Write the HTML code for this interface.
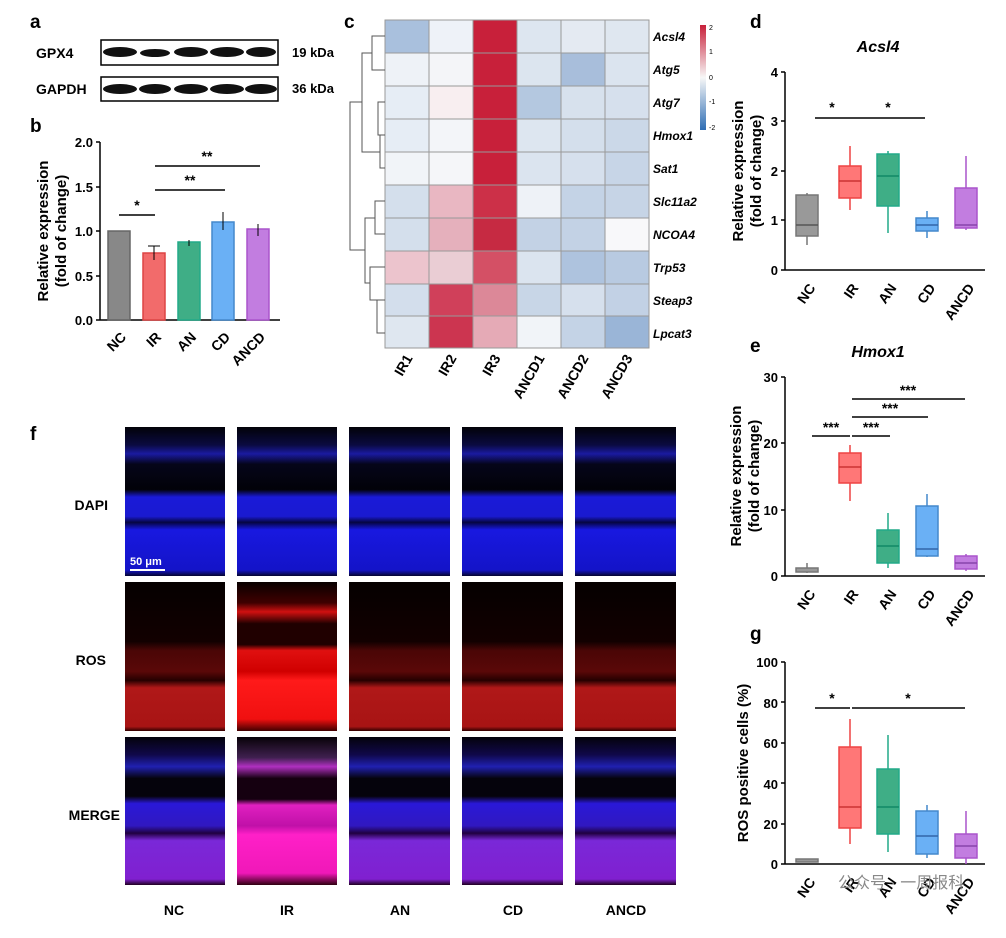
<!DOCTYPE html>
<html><head><meta charset="utf-8"><style>
body{margin:0;background:#fff;width:1006px;height:933px;overflow:hidden}
svg text{font-family:"Liberation Sans",Arial,sans-serif}
.b{font-weight:bold}
</style></head><body>
<svg width="1006" height="933" viewBox="0 0 1006 933" xmlns="http://www.w3.org/2000/svg">
<defs>
<linearGradient id="dapi" x1="0" y1="0" x2="0" y2="1">
<stop offset="0" stop-color="#020208"/><stop offset="0.12" stop-color="#0a0a40"/><stop offset="0.18" stop-color="#1a1aa0"/><stop offset="0.25" stop-color="#05051a"/>
<stop offset="0.42" stop-color="#020208"/><stop offset="0.47" stop-color="#1a1ad8"/><stop offset="0.6" stop-color="#1a1ad0"/>
<stop offset="0.64" stop-color="#050540"/><stop offset="0.69" stop-color="#1818e0"/><stop offset="0.96" stop-color="#1414c8"/><stop offset="1" stop-color="#050530"/></linearGradient>
<linearGradient id="ros" x1="0" y1="0" x2="0" y2="1">
<stop offset="0" stop-color="#050000"/><stop offset="0.4" stop-color="#120000"/><stop offset="0.46" stop-color="#4a0606"/>
<stop offset="0.6" stop-color="#5a0808"/><stop offset="0.66" stop-color="#250000"/><stop offset="0.71" stop-color="#b01818"/><stop offset="0.97" stop-color="#a81414"/><stop offset="1" stop-color="#300000"/></linearGradient>
<linearGradient id="rosIR" x1="0" y1="0" x2="0" y2="1">
<stop offset="0" stop-color="#080000"/><stop offset="0.14" stop-color="#400000"/><stop offset="0.2" stop-color="#d01010"/><stop offset="0.28" stop-color="#200000"/><stop offset="0.42" stop-color="#200000"/><stop offset="0.46" stop-color="#e01010"/>
<stop offset="0.6" stop-color="#d00000"/><stop offset="0.66" stop-color="#ff1a1a"/><stop offset="0.92" stop-color="#f01010"/><stop offset="1" stop-color="#400000"/></linearGradient>
<linearGradient id="mer" x1="0" y1="0" x2="0" y2="1">
<stop offset="0" stop-color="#04030c"/><stop offset="0.12" stop-color="#10084a"/><stop offset="0.2" stop-color="#2020b0"/><stop offset="0.28" stop-color="#05030c"/><stop offset="0.4" stop-color="#05030c"/>
<stop offset="0.45" stop-color="#2a18d8"/><stop offset="0.6" stop-color="#3018c0"/><stop offset="0.65" stop-color="#200040"/><stop offset="0.7" stop-color="#7a28d8"/><stop offset="0.96" stop-color="#8020d0"/><stop offset="1" stop-color="#200020"/></linearGradient>
<linearGradient id="merIR" x1="0" y1="0" x2="0" y2="1">
<stop offset="0" stop-color="#080208"/><stop offset="0.14" stop-color="#402050"/><stop offset="0.2" stop-color="#b030c0"/><stop offset="0.28" stop-color="#150010"/><stop offset="0.42" stop-color="#150010"/><stop offset="0.46" stop-color="#e020c0"/>
<stop offset="0.6" stop-color="#c010a8"/><stop offset="0.66" stop-color="#ff20c8"/><stop offset="0.92" stop-color="#f018b8"/><stop offset="1" stop-color="#300010"/></linearGradient>
<linearGradient id="cb" x1="0" y1="0" x2="0" y2="1"><stop offset="0" stop-color="#c8203a"/><stop offset="0.5" stop-color="#f7f7f7"/><stop offset="1" stop-color="#2e6db4"/></linearGradient>
</defs>

<!-- panel a -->
<text x="30" y="28" font-size="19" class="b">a</text>
<text x="36" y="58" font-size="14" class="b">GPX4</text>
<text x="36" y="94" font-size="14" class="b">GAPDH</text>
<rect x="101" y="40" width="177" height="25" fill="#fff" stroke="#000" stroke-width="1.5"/>
<rect x="101" y="77" width="177" height="24" fill="#fff" stroke="#000" stroke-width="1.5"/>
<g fill="#111">
<ellipse cx="120" cy="52" rx="17" ry="5"/><ellipse cx="155" cy="53" rx="15" ry="4"/><ellipse cx="191" cy="52" rx="17" ry="5"/><ellipse cx="227" cy="52" rx="17" ry="5"/><ellipse cx="261" cy="52" rx="15" ry="5"/>
<ellipse cx="120" cy="89" rx="17" ry="5"/><ellipse cx="155" cy="89" rx="16" ry="5"/><ellipse cx="191" cy="89" rx="17" ry="5"/><ellipse cx="227" cy="89" rx="17" ry="5"/><ellipse cx="261" cy="89" rx="16" ry="5"/>
</g>
<text x="292" y="57" font-size="13" class="b">19 kDa</text>
<text x="292" y="93" font-size="13" class="b">36 kDa</text>

<!-- panel b -->
<text x="30" y="132" font-size="19" class="b">b</text>
<g font-size="13" class="b" text-anchor="end">
<text x="93" y="147">2.0</text><text x="93" y="192">1.5</text><text x="93" y="236">1.0</text><text x="93" y="281">0.5</text><text x="93" y="325">0.0</text></g>
<path d="M100 142V320H280M96 142H100M96 187H100M96 231H100M96 276H100M96 320H100" stroke="#000" stroke-width="1.5" fill="none"/>
<g stroke-width="1.5">
<rect x="108" y="231" width="22" height="89" fill="#888" stroke="#666"/>
<rect x="143" y="253" width="22" height="67" fill="#f26b6b" stroke="#d44"/>
<rect x="178" y="242" width="22" height="78" fill="#3fae86" stroke="#2a8"/>
<rect x="212" y="222" width="22" height="98" fill="#6ab0f5" stroke="#48c"/>
<rect x="247" y="229" width="22" height="91" fill="#c27de0" stroke="#a5c"/>
</g>
<path d="M154 246V260M160 246H148M189 240V246M223 212V230M258 224V236" stroke="#000"/>
<path d="M119 215H155M155 190H225M155 166H260" stroke="#000" stroke-width="1.5"/>
<text x="137" y="210" font-size="14" class="b" text-anchor="middle">*</text>
<text x="190" y="185" font-size="14" class="b" text-anchor="middle">**</text>
<text x="207" y="161" font-size="14" class="b" text-anchor="middle">**</text>
<text transform="translate(48,231) rotate(-90)" font-size="15" class="b" text-anchor="middle">Relative expression</text>
<text transform="translate(66,231) rotate(-90)" font-size="15" class="b" text-anchor="middle">(fold of change)</text>
<g font-size="14" class="b" text-anchor="end">
<text transform="translate(127,338) rotate(-45)">NC</text><text transform="translate(162,338) rotate(-45)">IR</text>
<text transform="translate(197,338) rotate(-45)">AN</text><text transform="translate(231,338) rotate(-45)">CD</text>
<text transform="translate(266,338) rotate(-45)">ANCD</text></g>

<!-- panel c -->
<text x="344" y="28" font-size="19" class="b">c</text>
<g stroke="#999" stroke-width="1">
<rect x="385" y="20" width="44" height="33" fill="#a9c0dd"/><rect x="429" y="20" width="44" height="33" fill="#eef2f8"/><rect x="473" y="20" width="44" height="33" fill="#c8203a"/><rect x="517" y="20" width="44" height="33" fill="#dde6f0"/><rect x="561" y="20" width="44" height="33" fill="#e4eaf2"/><rect x="605" y="20" width="44" height="33" fill="#dfe7f0"/>
<rect x="385" y="53" width="44" height="33" fill="#eef2f7"/><rect x="429" y="53" width="44" height="33" fill="#f4f5f8"/><rect x="473" y="53" width="44" height="33" fill="#c8203a"/><rect x="517" y="53" width="44" height="33" fill="#dce5ef"/><rect x="561" y="53" width="44" height="33" fill="#a8bedb"/><rect x="605" y="53" width="44" height="33" fill="#dbe4ef"/>
<rect x="385" y="86" width="44" height="33" fill="#e6edf5"/><rect x="429" y="86" width="44" height="33" fill="#f8eef0"/><rect x="473" y="86" width="44" height="33" fill="#c8203a"/><rect x="517" y="86" width="44" height="33" fill="#b4c8e0"/><rect x="561" y="86" width="44" height="33" fill="#d7e1ed"/><rect x="605" y="86" width="44" height="33" fill="#d6e0ed"/>
<rect x="385" y="119" width="44" height="33" fill="#e6edf5"/><rect x="429" y="119" width="44" height="33" fill="#f3f5f9"/><rect x="473" y="119" width="44" height="33" fill="#c8203a"/><rect x="517" y="119" width="44" height="33" fill="#dde6f0"/><rect x="561" y="119" width="44" height="33" fill="#d4dfec"/><rect x="605" y="119" width="44" height="33" fill="#cbd8e8"/>
<rect x="385" y="152" width="44" height="33" fill="#f1f4f8"/><rect x="429" y="152" width="44" height="33" fill="#f5f6f9"/><rect x="473" y="152" width="44" height="33" fill="#c8203a"/><rect x="517" y="152" width="44" height="33" fill="#dbe4ef"/><rect x="561" y="152" width="44" height="33" fill="#d6e0ed"/><rect x="605" y="152" width="44" height="33" fill="#c7d5e7"/>
<rect x="385" y="185" width="44" height="33" fill="#d4dfec"/><rect x="429" y="185" width="44" height="33" fill="#e9b7c2"/><rect x="473" y="185" width="44" height="33" fill="#cc3048"/><rect x="517" y="185" width="44" height="33" fill="#eef2f7"/><rect x="561" y="185" width="44" height="33" fill="#c4d3e6"/><rect x="605" y="185" width="44" height="33" fill="#c6d4e6"/>
<rect x="385" y="218" width="44" height="33" fill="#d4dfec"/><rect x="429" y="218" width="44" height="33" fill="#e5b0bc"/><rect x="473" y="218" width="44" height="33" fill="#c62a42"/><rect x="517" y="218" width="44" height="33" fill="#c3d2e5"/><rect x="561" y="218" width="44" height="33" fill="#c3d2e5"/><rect x="605" y="218" width="44" height="33" fill="#f8f8fa"/>
<rect x="385" y="251" width="44" height="33" fill="#ecc4cd"/><rect x="429" y="251" width="44" height="33" fill="#eacdd4"/><rect x="473" y="251" width="44" height="33" fill="#d45065"/><rect x="517" y="251" width="44" height="33" fill="#dbe4ef"/><rect x="561" y="251" width="44" height="33" fill="#aec3de"/><rect x="605" y="251" width="44" height="33" fill="#b8cae1"/>
<rect x="385" y="284" width="44" height="32" fill="#d3deec"/><rect x="429" y="284" width="44" height="32" fill="#d0405a"/><rect x="473" y="284" width="44" height="32" fill="#dc8898"/><rect x="517" y="284" width="44" height="32" fill="#c8d6e7"/><rect x="561" y="284" width="44" height="32" fill="#d6e0ed"/><rect x="605" y="284" width="44" height="32" fill="#c2d1e5"/>
<rect x="385" y="316" width="44" height="32" fill="#dfe7f0"/><rect x="429" y="316" width="44" height="32" fill="#cc3550"/><rect x="473" y="316" width="44" height="32" fill="#e5aab6"/><rect x="517" y="316" width="44" height="32" fill="#f1f4f8"/><rect x="561" y="316" width="44" height="32" fill="#c4d3e6"/><rect x="605" y="316" width="44" height="32" fill="#9ab5d7"/>
</g>
<path d="M385 36H372V70H385M385 102H378V135H385M385 168H380V135M372 53H362V152H380M385 201H375V234H385M385 267H370V300H385M385 333H377V300M375 218H365V283H370M362 102H350V250H365" stroke="#555" fill="none"/>
<g font-size="12" class="b" font-style="italic">
<text x="653" y="41">Acsl4</text><text x="653" y="74">Atg5</text><text x="653" y="107">Atg7</text><text x="653" y="140">Hmox1</text><text x="653" y="173">Sat1</text>
<text x="653" y="206">Slc11a2</text><text x="653" y="239">NCOA4</text><text x="653" y="272">Trp53</text><text x="653" y="305">Steap3</text><text x="653" y="338">Lpcat3</text></g>
<rect x="700" y="25" width="6" height="105" fill="url(#cb)"/>
<g font-size="7"><text x="709" y="30">2</text><text x="709" y="54">1</text><text x="709" y="80">0</text><text x="709" y="104">-1</text><text x="709" y="130">-2</text></g>
<g font-size="14" class="b" text-anchor="end">
<text transform="translate(413,358) rotate(-60)">IR1</text><text transform="translate(457,358) rotate(-60)">IR2</text><text transform="translate(501,358) rotate(-60)">IR3</text>
<text transform="translate(545,358) rotate(-60)">ANCD1</text><text transform="translate(589,358) rotate(-60)">ANCD2</text><text transform="translate(633,358) rotate(-60)">ANCD3</text></g>

<!-- panel d -->
<text x="750" y="28" font-size="19" class="b">d</text>
<text x="878" y="52" font-size="16" class="b" font-style="italic" text-anchor="middle">Acsl4</text>
<g font-size="13" class="b" text-anchor="end"><text x="778" y="77">4</text><text x="778" y="126">3</text><text x="778" y="176">2</text><text x="778" y="225">1</text><text x="778" y="275">0</text></g>
<path d="M785 72V270H985M781 72H785M781 121H785M781 171H785M781 220H785M781 270H785" stroke="#000" stroke-width="1.5" fill="none"/>
<text transform="translate(743,171) rotate(-90)" font-size="15" class="b" text-anchor="middle">Relative expression</text>
<text transform="translate(761,171) rotate(-90)" font-size="15" class="b" text-anchor="middle">(fold of change)</text>
<path d="M815 118H850M850 118H925" stroke="#000" stroke-width="1.5"/>
<text x="832" y="112" font-size="14" class="b" text-anchor="middle">*</text><text x="888" y="112" font-size="14" class="b" text-anchor="middle">*</text>
<g stroke-width="1.5">
<path d="M807 193V195M807 236V245" stroke="#777"/><rect x="796" y="195" width="22" height="41" fill="#999" stroke="#777"/><path d="M796 225H818" stroke="#555"/>
<path d="M850 146V166M850 198V210" stroke="#e44"/><rect x="839" y="166" width="22" height="32" fill="#f77" stroke="#e44"/><path d="M839 181H861" stroke="#c33"/>
<path d="M888 151V154M888 206V233" stroke="#2a8"/><rect x="877" y="154" width="22" height="52" fill="#3fae86" stroke="#2a8"/><path d="M877 176H899" stroke="#186"/>
<path d="M927 211V218M927 231V238" stroke="#48c"/><rect x="916" y="218" width="22" height="13" fill="#6ab0f5" stroke="#48c"/><path d="M916 225H938" stroke="#36a"/>
<path d="M966 156V188M966 228V230" stroke="#a5c"/><rect x="955" y="188" width="22" height="40" fill="#c27de0" stroke="#a5c"/><path d="M955 225H977" stroke="#84a"/>
</g>
<g font-size="14" class="b" text-anchor="end">
<text transform="translate(816,288) rotate(-55)">NC</text><text transform="translate(859,288) rotate(-55)">IR</text><text transform="translate(897,288) rotate(-55)">AN</text>
<text transform="translate(936,288) rotate(-55)">CD</text><text transform="translate(975,288) rotate(-55)">ANCD</text></g>

<!-- panel e -->
<text x="750" y="352" font-size="19" class="b">e</text>
<text x="878" y="357" font-size="16" class="b" font-style="italic" text-anchor="middle">Hmox1</text>
<g font-size="13" class="b" text-anchor="end"><text x="778" y="382">30</text><text x="778" y="448">20</text><text x="778" y="515">10</text><text x="778" y="581">0</text></g>
<path d="M785 377V576H985M781 377H785M781 443H785M781 510H785M781 576H785" stroke="#000" stroke-width="1.5" fill="none"/>
<text transform="translate(741,476) rotate(-90)" font-size="15" class="b" text-anchor="middle">Relative expression</text>
<text transform="translate(759,476) rotate(-90)" font-size="15" class="b" text-anchor="middle">(fold of change)</text>
<path d="M812 436H850M852 436H890M852 417H928M852 399H965" stroke="#000" stroke-width="1.5"/>
<g font-size="14" class="b" text-anchor="middle"><text x="831" y="432">***</text><text x="871" y="432">***</text><text x="890" y="413">***</text><text x="908" y="395">***</text></g>
<g stroke-width="1.5">
<path d="M807 563V568M807 572V573" stroke="#777"/><rect x="796" y="568" width="22" height="4" fill="#999" stroke="#777"/>
<path d="M850 445V453M850 483V501" stroke="#e44"/><rect x="839" y="453" width="22" height="30" fill="#f77" stroke="#e44"/><path d="M839 467H861" stroke="#c33"/>
<path d="M888 513V530M888 563V568" stroke="#2a8"/><rect x="877" y="530" width="22" height="33" fill="#3fae86" stroke="#2a8"/><path d="M877 546H899" stroke="#186"/>
<path d="M927 494V506M927 556V557" stroke="#48c"/><rect x="916" y="506" width="22" height="50" fill="#6ab0f5" stroke="#48c"/><path d="M916 549H938" stroke="#36a"/>
<path d="M966 554V556M966 569V571" stroke="#a5c"/><rect x="955" y="556" width="22" height="13" fill="#c27de0" stroke="#a5c"/><path d="M955 563H977" stroke="#84a"/>
</g>
<g font-size="14" class="b" text-anchor="end">
<text transform="translate(816,594) rotate(-55)">NC</text><text transform="translate(859,594) rotate(-55)">IR</text><text transform="translate(897,594) rotate(-55)">AN</text>
<text transform="translate(936,594) rotate(-55)">CD</text><text transform="translate(975,594) rotate(-55)">ANCD</text></g>

<!-- panel g -->
<text x="750" y="640" font-size="19" class="b">g</text>
<g font-size="13" class="b" text-anchor="end"><text x="778" y="667">100</text><text x="778" y="708">80</text><text x="778" y="748">60</text><text x="778" y="789">40</text><text x="778" y="829">20</text><text x="778" y="869">0</text></g>
<path d="M785 662V864H985M781 662H785M781 702H785M781 743H785M781 783H785M781 824H785M781 864H785" stroke="#000" stroke-width="1.5" fill="none"/>
<text transform="translate(748,763) rotate(-90)" font-size="15" class="b" text-anchor="middle">ROS positive cells (%)</text>
<path d="M815 708H850M852 708H965" stroke="#000" stroke-width="1.5"/>
<text x="832" y="703" font-size="14" class="b" text-anchor="middle">*</text><text x="908" y="703" font-size="14" class="b" text-anchor="middle">*</text>
<g stroke-width="1.5">
<rect x="796" y="859" width="22" height="3" fill="#999" stroke="#777"/>
<path d="M850 719V747M850 828V844" stroke="#e44"/><rect x="839" y="747" width="22" height="81" fill="#f77" stroke="#e44"/><path d="M839 807H861" stroke="#c33"/>
<path d="M888 735V769M888 834V852" stroke="#2a8"/><rect x="877" y="769" width="22" height="65" fill="#3fae86" stroke="#2a8"/><path d="M877 807H899" stroke="#186"/>
<path d="M927 805V811M927 854V858" stroke="#48c"/><rect x="916" y="811" width="22" height="43" fill="#6ab0f5" stroke="#48c"/><path d="M916 836H938" stroke="#36a"/>
<path d="M966 811V834M966 858V864" stroke="#a5c"/><rect x="955" y="834" width="22" height="24" fill="#c27de0" stroke="#a5c"/><path d="M955 846H977" stroke="#84a"/>
</g>
<g font-size="14" class="b" text-anchor="end">
<text transform="translate(816,882) rotate(-55)">NC</text><text transform="translate(859,882) rotate(-55)">IR</text><text transform="translate(897,882) rotate(-55)">AN</text>
<text transform="translate(936,882) rotate(-55)">CD</text><text transform="translate(975,882) rotate(-55)">ANCD</text></g>
<text x="838" y="888" font-size="16" fill="#888" font-family="'Liberation Sans','Noto Sans CJK SC',sans-serif">公众号 · 一周报科</text>

<!-- panel f -->
<text x="30" y="440" font-size="19" class="b">f</text>
<g font-size="14" class="b" text-anchor="end"><text x="108" y="510">DAPI</text><text x="106" y="665">ROS</text><text x="120" y="820">MERGE</text></g>
<g>
<rect x="125" y="427" width="100" height="149" fill="url(#dapi)"/><rect x="237" y="427" width="100" height="149" fill="url(#dapi)"/><rect x="349" y="427" width="101" height="149" fill="url(#dapi)"/><rect x="462" y="427" width="101" height="149" fill="url(#dapi)"/><rect x="575" y="427" width="101" height="149" fill="url(#dapi)"/>
<rect x="125" y="582" width="100" height="149" fill="url(#ros)"/><rect x="237" y="582" width="100" height="149" fill="url(#rosIR)"/><rect x="349" y="582" width="101" height="149" fill="url(#ros)"/><rect x="462" y="582" width="101" height="149" fill="url(#ros)"/><rect x="575" y="582" width="101" height="149" fill="url(#ros)"/>
<rect x="125" y="737" width="100" height="148" fill="url(#mer)"/><rect x="237" y="737" width="100" height="148" fill="url(#merIR)"/><rect x="349" y="737" width="101" height="148" fill="url(#mer)"/><rect x="462" y="737" width="101" height="148" fill="url(#mer)"/><rect x="575" y="737" width="101" height="148" fill="url(#mer)"/>
</g>
<path d="M130 570H165" stroke="#fff" stroke-width="2"/>
<text x="130" y="565" font-size="11" fill="#fff" class="b">50 μm</text>
<g font-size="14" class="b" text-anchor="middle"><text x="174" y="915">NC</text><text x="287" y="915">IR</text><text x="400" y="915">AN</text><text x="513" y="915">CD</text><text x="626" y="915">ANCD</text></g>
</svg>
</body></html>
